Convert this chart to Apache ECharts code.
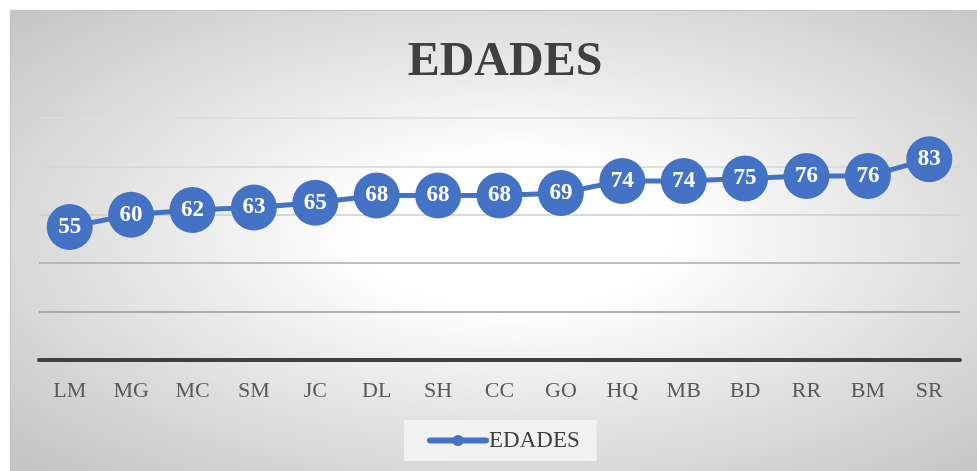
<!DOCTYPE html>
<html>
<head>
<meta charset="utf-8">
<script src="https://cdn.jsdelivr.net/npm/echarts@6/dist/echarts.min.js"></script>
<style>
  html, body { margin: 0; padding: 0; background: #fff; }
  #wrap { position: relative; width: 977px; height: 471px; }
  #bg {
    position: absolute; left: 10px; top: 10px; width: 969px; height: 463px;
    border: 1px solid #c4c4c4;
    background: radial-gradient(ellipse at 52% 48%, #ffffff 0%, #ffffff 22%, #e4e4e4 55%, #c2c2c2 100%);
  }
  #chart { position: absolute; left: 0; top: 0; width: 977px; height: 471px; }
</style>
</head>
<body>
<div id="wrap">
  <div id="bg"></div>
  <div id="chart"></div>
</div>
<script>
  var names = ['LM', 'MG', 'MC', 'SM', 'JC', 'DL', 'SH', 'CC', 'GO', 'HQ', 'MB', 'BD', 'RR', 'BM', 'SR'];
  var edades = [55, 60, 62, 63, 65, 68, 68, 68, 69, 74, 74, 75, 76, 76, 83];

  var serif = '"Liberation Serif", "DejaVu Serif", serif';
  var blue = '#4472C4';

  var chart = echarts.init(document.getElementById('chart'), null, { renderer: 'canvas' });
  chart.setOption({
    animation: false,
    backgroundColor: 'transparent',
    title: {
      text: 'EDADES',
      left: 500,
      textAlign: 'center',
      top: 34,
      textStyle: { fontFamily: serif, fontWeight: 'bold', fontSize: 48, color: '#404040' }
    },
    legend: {
      top: 420,
      left: 404,
      padding: [9, 17, 9, 23],
      backgroundColor: 'rgba(245,245,245,0.85)',
      itemWidth: 56,
      itemHeight: 14,
      itemGap: 0,
      lineStyle: { width: 6, cap: 'round' },
      textStyle: { fontFamily: serif, fontSize: 23, color: '#404040', padding: [0, 0, 0, -2] },
      data: ['EDADES']
    },
    grid: { left: 39, right: 17, top: 118, bottom: 111 },
    xAxis: {
      type: 'category',
      data: names,
      boundaryGap: true,
      axisLine: { show: true, lineStyle: { color: '#404040', width: 4 } },
      axisTick: { show: false },
      axisLabel: { fontFamily: serif, fontSize: 22, color: '#595959', margin: 20 }
    },
    yAxis: {
      type: 'value',
      min: 0,
      max: 100,
      interval: 20,
      axisLine: { show: false },
      axisTick: { show: false },
      axisLabel: { show: false },
      splitLine: {
        lineStyle: {
          width: 1.5,
          color: ['rgba(0,0,0,0)', '#999999', '#aaaaaa', '#cdcdcd', '#d6d6d6', '#dcdcdc']
        }
      }
    },
    series: [
      {
        name: 'EDADES',
        type: 'line',
        data: edades,
        symbol: 'circle',
        symbolSize: 46,
        lineStyle: { color: blue, width: 5 },
        itemStyle: { color: blue },
        label: {
          show: true,
          position: 'inside',
          fontFamily: serif,
          fontWeight: 'bold',
          fontSize: 23,
          color: '#fff'
        }
      }
    ]
  });
</script>
</body>
</html>
